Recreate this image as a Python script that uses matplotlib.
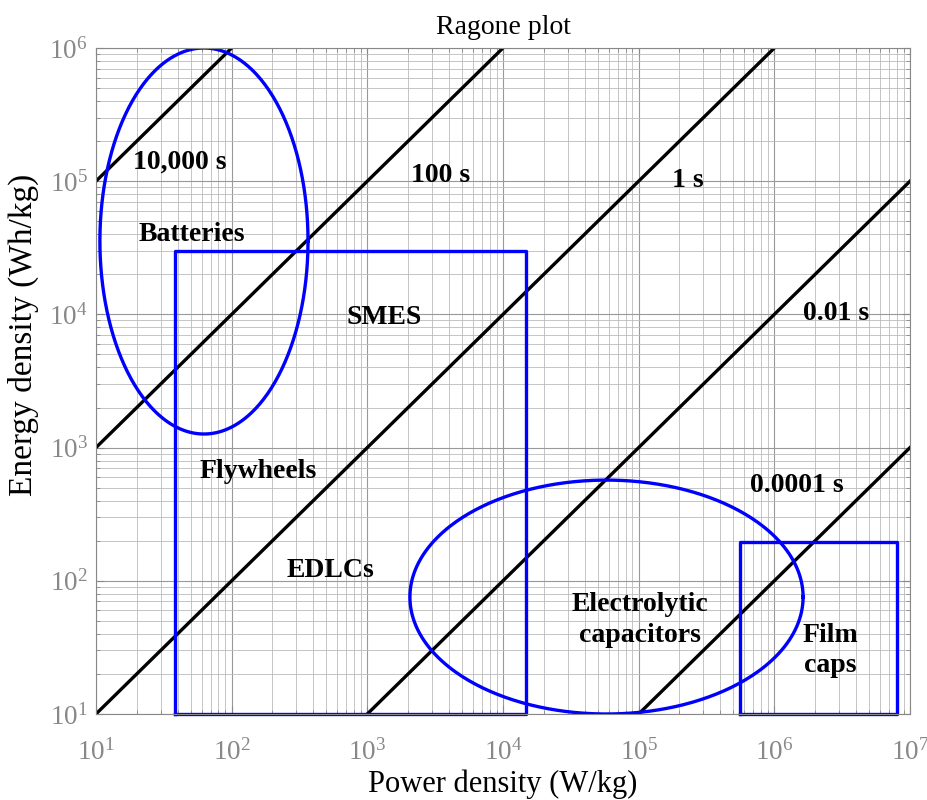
import matplotlib.pyplot as plt
from matplotlib.ticker import NullFormatter
import numpy as np

plt.rcParams['font.family'] = ['Liberation Serif', 'DejaVu Serif']
plt.rcParams['mathtext.fontset'] = 'stix'

# discharge times (s) of the constant-time lines, E = P * t
times = [1e4, 1e2, 1, 1e-2, 1e-4]
time_labels = ['10,000 s', '100 s', '1 s', '0.01 s', '0.0001 s']
time_label_xy = [(41.6, 1.39e5), (3440, 1.11e5), (2.31e5, 1.02e5), (2.84e6, 1.02e4), (1.47e6, 523)]

# boxes: (P min, P max, E min, E max)
boxes = [(38, 1.48e4, 10, 3e4), (5.6e5, 8e6, 10, 195)]
# ellipses in log10 space: (center logP, center logE, half width, half height)
ellipses = [(1.796, 4.551, 0.767, 1.449), (4.763, 1.878, 1.449, 0.878)]

tech_labels = ['Batteries', 'SMES', 'Flywheels', 'EDLCs', 'Electrolytic\ncapacitors', 'Film\ncaps']
tech_xy = [(51, 3.95e4), (1330, 9400), (156, 656), (531, 120), (1.02e5, 50.8), (2.57e6, 30)]

x_exps = [1, 2, 3, 4, 5, 6, 7]
y_exps = [1, 2, 3, 4, 5, 6]

xlim = (10, 1e7)
ylim = (10, 1e6)

fig = plt.figure(figsize=(9.28, 8), dpi=100)
ax = fig.add_axes([0.1034, 0.1075, 0.8772, 0.8325])
ax.set_xscale('log')
ax.set_yscale('log')

p = np.logspace(1, 7, 400)
for t in times:
    e = p * t
    m = (e >= ylim[0]) & (e <= ylim[1])
    ax.plot(p[m], e[m], color='black', lw=2.4)

for x0, x1, y0, y1 in boxes:
    ax.plot([x0, x1, x1, x0, x0], [y0, y0, y1, y1, y0], color='#0000ff', lw=2.4, clip_on=False)

th = np.linspace(0, 2 * np.pi, 400)
for cx, cy, a, b in ellipses:
    ax.plot(10 ** (cx + a * np.cos(th)), 10 ** (cy + b * np.sin(th)), color='#0000ff', lw=2.4)

for lab, (x, y) in zip(time_labels, time_label_xy):
    ax.text(x, y, lab, fontsize=20, fontweight='bold', ha='center', va='center')
for lab, (x, y) in zip(tech_labels, tech_xy):
    ax.text(x, y, lab, fontsize=20, fontweight='bold', ha='center', va='center', linespacing=1.3)

ax.set_xlim(*xlim)
ax.set_ylim(*ylim)
ax.set_xticks([10.0 ** k for k in x_exps], [r'$\mathdefault{10^{%d}}$' % k for k in x_exps])
ax.set_yticks([10.0 ** k for k in y_exps], [r'$\mathdefault{10^{%d}}$' % k for k in y_exps])
ax.xaxis.set_minor_formatter(NullFormatter())
ax.yaxis.set_minor_formatter(NullFormatter())
ax.grid(which='major', color='#999999', lw=0.8)
ax.grid(which='minor', color='#bbbbbb', lw=0.6)
ax.tick_params(which='both', direction='in', colors='#888888', labelsize=19.5, top=True, right=True)
ax.tick_params(axis='x', which='major', length=6, pad=18)
ax.tick_params(axis='y', which='major', length=6, pad=6)
ax.tick_params(which='minor', length=3)
for s in ax.spines.values():
    s.set_color('#888888')

ax.set_title('Ragone plot', fontsize=20, pad=10)
ax.set_xlabel('Power density (W/kg)', fontsize=22, labelpad=3)
ax.set_ylabel('Energy density (Wh/kg)', fontsize=24)
ax.yaxis.set_label_coords(-0.07, 0.569)

fig.savefig('out.png', dpi=100)
